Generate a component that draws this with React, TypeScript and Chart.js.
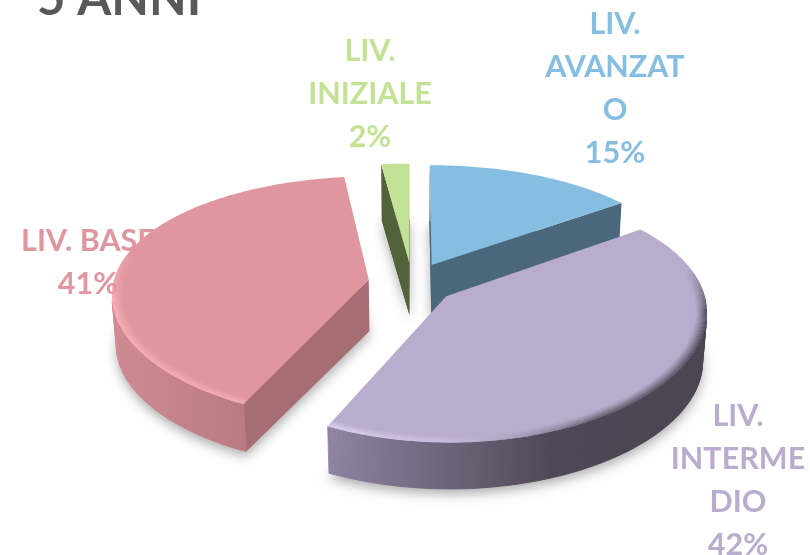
import React, { useEffect, useRef } from "react";
import { Chart, registerables } from "chart.js";

Chart.register(...registerables);

const titleText = "5 ANNI";
const categories = ["LIV. AVANZATO", "LIV. INTERMEDIO", "LIV. BASE", "LIV. INIZIALE"];
const values = [15, 42, 41, 2];
const labelLines = [
  ["LIV.", "AVANZAT", "O"],
  ["LIV.", "INTERME", "DIO"],
  ["LIV. BASE"],
  ["LIV.", "INIZIALE"],
];

const topColors = ["#85BEE1", "#BAACCD", "#DF969F", "#C3E295"];
const faceColors = ["#4A677B", "#6A5F78", "#A66D73", "#52623A"];
const wallStops: [number, string][][] = [
  [[0, "#4A677B"], [1, "#4A677B"]],
  [[0, "#8F84A3"], [0.6, "#4F4755"], [1, "#4C4451"]],
  [[0, "#D08B93"], [1, "#A46D72"]],
  [[0, "#52623A"], [1, "#52623A"]],
];
const rimStops: [number, string][][] = [
  [[0, "#85BEE1"], [1, "#85BEE1"]],
  [[0, "#EADCFC"], [0.3, "#D3C4E6"], [0.5, "#A497B5"], [0.72, "#4C4451"], [1, "#3F3845"]],
  [[0, "#FFB4BC"], [1, "#FFB4BC"]],
  [[0, "#C3E295"], [1, "#C3E295"]],
];
const labelAnchors: [number, number][] = [[615, 24], [738, 416], [88, 241], [370, 51]];
const drawOrder = [3, 0, 2, 1];

const TILT = 0.468;
const PERSP_Y = 0.15;
const PERSP_X = 0.11;
const SCALE_X = 0.998;
const DEPTH = 51;
const SWEEP = 120;

const hexFill = (ctx: any, x0: number, x1: number, stops: [number, string][]) => {
  const g = ctx.createLinearGradient(x0, 0, x1, 0);
  stops.forEach(([o, c]) => g.addColorStop(o, c));
  return g;
};

const area = (p: number[][]) => {
  let s = 0;
  for (let i = 0; i < p.length; i++) {
    const a = p[i];
    const b = p[(i + 1) % p.length];
    s += a[0] * b[1] - b[0] * a[1];
  }
  return s;
};

const poly = (ctx: any, p: number[][]) => {
  ctx.beginPath();
  p.forEach((q, i) => (i ? ctx.lineTo(q[0], q[1]) : ctx.moveTo(q[0], q[1])));
  ctx.closePath();
};

const pie3d = {
  id: "pie3d",
  beforeDatasetsDraw(chart: any) {
    const ctx = chart.ctx;
    const meta = chart.getDatasetMeta(0);
    drawOrder.forEach((i) => {
      const arc = meta.data[i];
      const R = arc.outerRadius;
      const offset = arc.options.offset;
      const a0 = arc.startAngle + Math.PI / 2;
      const a1 = arc.endAngle + Math.PI / 2;
      const mid = (a0 + a1) / 2;
      const ox = Math.sin(mid) * offset;
      const oy = -Math.cos(mid) * offset;
      const project = (r: number, a: number, down: number) => {
        const X = ox + r * Math.sin(a);
        const Y = oy - r * Math.cos(a);
        const fx = 1 / (1 - (PERSP_X * Y) / R);
        const fy = 1 / (1 - (PERSP_Y * Y) / R);
        const shrink = down ? 0.985 : 1;
        return [
          arc.x + X * fx * SCALE_X * shrink,
          arc.y + Y * TILT * fy + down * (1 - (0.08 * Y) / R),
        ];
      };
      const n = Math.max(4, Math.ceil(((a1 - a0) / (2 * Math.PI)) * SWEEP * 3));
      const angles: number[] = [];
      for (let k = 0; k <= n; k++) angles.push(a0 + ((a1 - a0) * k) / n);

      const top = [project(0, 0, 0), ...angles.map((a) => project(R, a, 0))];
      const bottom = [project(0, 0, DEPTH), ...angles.map((a) => project(R, a, DEPTH))];
      const xs = top.map((p) => p[0]);
      const x0 = Math.min(...xs);
      const x1 = Math.max(...xs);

      // soft ground shadow
      ctx.save();
      ctx.shadowColor = "rgba(0,0,0,0.32)";
      ctx.shadowBlur = 12;
      ctx.shadowOffsetY = 5;
      ctx.fillStyle = faceColors[i];
      poly(ctx, bottom);
      ctx.fill();
      ctx.restore();

      // radial faces
      const tip = top[0];
      const tipB = bottom[0];
      const s = [tip, top[1], bottom[1], tipB];
      const e = [tip, top[n + 1], bottom[n + 1], tipB];
      ctx.fillStyle = faceColors[i];
      if (area(s) < 0) {
        poly(ctx, s);
        ctx.fill();
      }
      if (area(e) > 0) {
        poly(ctx, e);
        ctx.fill();
      }

      // outer wall
      const wall = hexFill(ctx, x0, x1, wallStops[i]);
      ctx.fillStyle = wall;
      ctx.strokeStyle = wall;
      ctx.lineWidth = 0.7;
      for (let k = 0; k < n; k++) {
        const q = [
          project(R, angles[k], 0),
          project(R, angles[k + 1], 0),
          project(R, angles[k + 1], DEPTH),
          project(R, angles[k], DEPTH),
        ];
        if (area(q) < 0) {
          poly(ctx, q);
          ctx.fill();
          ctx.stroke();
        }
      }

      // top surface
      ctx.fillStyle = arc.options.backgroundColor;
      poly(ctx, top);
      ctx.fill();

      // bevel along the front rim
      ctx.fillStyle = hexFill(ctx, x0, x1, rimStops[i]);
      const rings = 12;
      const band = 11;
      for (let j = 0; j < rings; j++) {
        const r0 = R - band + (j * band) / rings;
        const r1 = r0 + band / rings;
        const alpha = Math.pow((j + 1) / rings, 1.3) * 0.9;
        const path: number[][] = [];
        const back: number[][] = [];
        let segAlpha = -1;
        const flush = () => {
          if (path.length > 1) {
            ctx.globalAlpha = alpha * segAlpha;
            poly(ctx, [...path, ...back.slice().reverse()]);
            ctx.fill();
          }
          path.length = 0;
          back.length = 0;
        };
        for (let k = 0; k <= n; k++) {
          const front = Math.min(1, Math.max(0, (-Math.cos(angles[k]) + 0.25) / 0.35));
          const q = Math.round(front * 12) / 12;
          if (q !== segAlpha) {
            if (path.length) {
              path.push(project(r1, angles[k], 0));
              back.push(project(r0, angles[k], 0));
            }
            flush();
            segAlpha = q;
          }
          if (q > 0) {
            path.push(project(r1, angles[k], 0));
            back.push(project(r0, angles[k], 0));
          }
        }
        flush();
      }
      ctx.globalAlpha = 1;
    });
    return false;
  },
  afterDraw(chart: any) {
    const ctx = chart.ctx;
    const vals = chart.data.datasets[0].data;
    const total = vals.reduce((a: number, b: number) => a + b, 0);
    ctx.save();
    ctx.textAlign = "center";
    ctx.textBaseline = "middle";
    ctx.font = "bold 30.5px Lato";
    labelLines.forEach((lines, i) => {
      ctx.fillStyle = topColors[i];
      const all = [...lines, `${Math.round((vals[i] / total) * 100)}%`];
      all.forEach((t, j) => {
        ctx.fillText(t, labelAnchors[i][0], labelAnchors[i][1] + j * 43);
      });
    });
    ctx.textAlign = "left";
    ctx.textBaseline = "alphabetic";
    ctx.fillStyle = "#595959";
    ctx.font = "bold 49px Lato";
    ctx.fillText(titleText, 37, 15);
    ctx.restore();
  },
};

export default function App() {
  const ref = useRef<HTMLCanvasElement>(null);
  useEffect(() => {
    const chart = new Chart(ref.current as HTMLCanvasElement, {
      type: "pie",
      data: {
        labels: categories,
        datasets: [{ data: values, backgroundColor: topColors, borderWidth: 0, offset: 44 }],
      },
      options: {
        animation: false,
        responsive: false,
        radius: 256,
        rotation: 0,
        layout: { padding: { left: 14, top: 11 } },
        plugins: { legend: { display: false }, tooltip: { enabled: false } },
      } as any,
      plugins: [pie3d],
    });
    return () => chart.destroy();
  }, []);
  return (
    <div style={{ position: "fixed", left: 0, top: 0, width: 810, height: 555, background: "#fff" }}>
      <canvas ref={ref} width={810} height={555} style={{ display: "block" }} />
    </div>
  );
}
